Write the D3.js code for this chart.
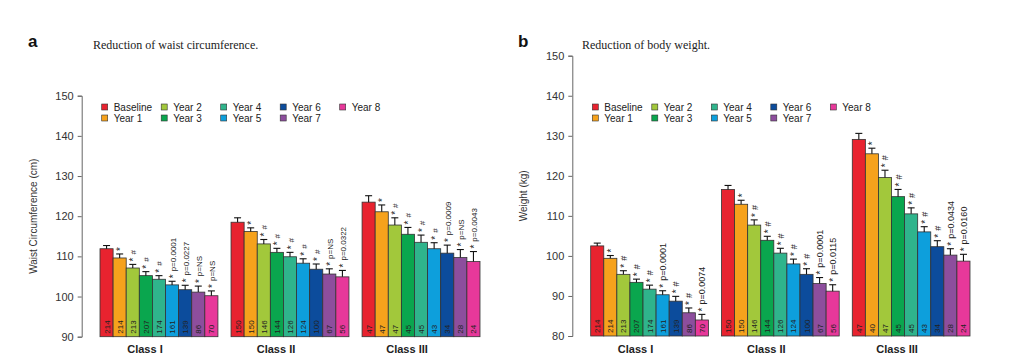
<!DOCTYPE html>
<html>
<head>
<meta charset="utf-8">
<script src="https://cdn.jsdelivr.net/npm/d3@7"></script>
<style>
  body { margin: 0; background: #fff; }
  svg { display: block; font-family: "Liberation Sans", Arial, sans-serif; }
</style>
</head>
<body>
<svg id="chart" width="1024" height="364"></svg>
<script>
// categories
const classes = ["Class I", "Class II", "Class III"];
const years = ["Baseline", "Year 1", "Year 2", "Year 3", "Year 4", "Year 5", "Year 6", "Year 7", "Year 8"];
const yearColors = ["#e8232f", "#f6a21c", "#a2c83b", "#0aa64e", "#2fb48c", "#0d9fdc", "#0c4c9c", "#8d4e9d", "#e7389a"];

// waist circumference (cm), one row per class
const waistMeans = [
  [111.9, 109.6, 107.1, 105.2, 104.3, 102.9, 101.7, 101.1, 100.2],
  [118.5, 116.2, 113.1, 111.0, 109.9, 108.3, 106.8, 105.6, 104.9],
  [123.5, 121.1, 117.8, 115.5, 113.5, 111.9, 110.8, 109.7, 108.7]
];
const waistErrors = [
  [0.8, 1.0, 0.9, 1.0, 0.9, 0.9, 1.1, 1.5, 1.2],
  [1.1, 0.9, 1.1, 1.0, 1.1, 1.1, 1.3, 1.3, 1.6],
  [1.6, 1.7, 1.8, 1.7, 1.8, 1.5, 2.0, 2.0, 2.5]
];
const waistCounts = [
  ["214", "214", "213", "207", "174", "161", "139", "86", "70"],
  ["150", "150", "146", "144", "126", "124", "100", "67", "56"],
  ["47", "47", "47", "45", "45", "43", "34", "28", "24"]
];
const waistNotes = [
  ["", "*", "* #", "* #", "* #", "* p=0.0001", "* p=0.0227", "* p=NS", "* p=NS"],
  ["", "*", "* #", "* #", "* #", "* #", "* #", "* p=NS", "* p=0.0322"],
  ["", "*", "* #", "* #", "* #", "* #", "* p=0.0009", "* p=NS", "* p=0.0043"]
];
const waistTicks = [90, 100, 110, 120, 130, 140, 150];

// body weight (kg)
const weightMeans = [
  [102.5, 99.4, 95.4, 93.4, 91.7, 90.3, 88.7, 85.8, 84.0],
  [116.6, 112.9, 107.7, 103.9, 100.7, 98.0, 95.4, 93.1, 91.2],
  [129.1, 125.5, 119.6, 114.8, 110.5, 106.0, 102.3, 100.2, 98.7]
];
const weightErrors = [
  [0.7, 0.7, 0.9, 0.8, 1.0, 1.0, 1.2, 1.2, 1.4],
  [1.0, 1.0, 1.3, 1.0, 1.2, 1.2, 1.4, 1.5, 1.6],
  [1.5, 1.4, 1.8, 1.8, 1.5, 1.3, 1.5, 1.6, 1.7]
];
const weightCounts = [
  ["214", "214", "213", "207", "174", "161", "139", "86", "70"],
  ["150", "150", "146", "144", "126", "124", "100", "67", "56"],
  ["47", "40", "47", "45", "45", "43", "34", "28", "24"]
];
const weightNotes = [
  ["", "*", "* #", "* #", "* #", "* p=0.0001", "* #", "* #", "* p=0.0074"],
  ["", "*", "* #", "* #", "* #", "* #", "* #", "* p=0.0001", "* p=0.0115"],
  ["", "*", "* #", "* #", "* #", "* #", "* #", "* p=0.0434", "* p=0.0160"]
];
const weightTicks = [80, 90, 100, 110, 120, 130, 140, 150];

const svg = d3.select("#chart");

function drawPanel(p) {
  const g = svg.append("g");

  const y = d3.scaleLinear().domain(p.domain).range([p.bottom, p.top]);
  const xClass = d3.scaleBand().domain(classes).range([p.barLeft, p.barRight]).paddingInner(0.1);
  const xYear = d3.scaleBand().domain(years).range([0, xClass.bandwidth()]);

  // panel letter + title
  g.append("text").attr("x", p.letterX).attr("y", 47)
    .style("font-size", "17px").style("font-weight", "bold").attr("fill", "#111")
    .text(p.letter);
  g.append("text").attr("x", p.titleX).attr("y", 49)
    .style("font-family", "'Liberation Serif', 'Times New Roman', serif")
    .style("font-size", "12px").attr("fill", "#222")
    .text(p.title);

  // y axis
  const axis = g.append("g").attr("transform", `translate(${p.axisX},0)`)
    .call(d3.axisLeft(y).tickValues(p.ticks).tickSize(4).tickPadding(4));
  axis.select(".domain").attr("stroke", "#666");
  axis.selectAll(".tick line").attr("stroke", "#666");
  axis.selectAll(".tick text").attr("fill", "#333")
    .style("font-size", "11px").style("font-family", "'Liberation Sans', Arial, sans-serif");

  g.append("text")
    .attr("transform", `translate(${p.labelX},${(p.top + p.bottom) / 2}) rotate(-90)`)
    .attr("text-anchor", "middle").attr("fill", "#333")
    .style("font-size", "10px")
    .text(p.yLabel);

  // bars
  classes.forEach((c, ci) => {
    const grp = g.append("g").attr("transform", `translate(${xClass(c)},0)`);
    const rows = years.map((yr, i) => ({
      year: yr, i: i, mean: p.means[ci][i], err: p.errors[ci][i],
      n: p.counts[ci][i], note: p.notes[ci][i]
    }));

    grp.selectAll("rect").data(rows).enter().append("rect")
      .attr("x", d => xYear(d.year))
      .attr("y", d => y(d.mean))
      .attr("width", xYear.bandwidth())
      .attr("height", d => y(p.domain[0]) - y(d.mean))
      .attr("fill", d => yearColors[d.i])
      .attr("stroke", "#333").attr("stroke-width", 0.8);

    // error bars
    const eb = grp.selectAll("g.err").data(rows).enter().append("g").attr("class", "err");
    const cx = d => xYear(d.year) + xYear.bandwidth() / 2;
    eb.append("line").attr("x1", cx).attr("x2", cx)
      .attr("y1", d => y(d.mean)).attr("y2", d => y(d.mean + d.err))
      .attr("stroke", "#111").attr("stroke-width", 1.1);
    eb.append("line").attr("x1", d => cx(d) - 3.5).attr("x2", d => cx(d) + 3.5)
      .attr("y1", d => y(d.mean + d.err)).attr("y2", d => y(d.mean + d.err))
      .attr("stroke", "#111").attr("stroke-width", 1.1);

    // counts inside bars
    grp.selectAll("text.n").data(rows).enter().append("text").attr("class", "n")
      .attr("transform", d => `translate(${cx(d) + 3},${p.bottom - 3}) rotate(-90)`)
      .attr("fill", "#222").style("font-size", "8px")
      .text(d => d.n);

    // significance notes: a bigger star, then the rest
    const notes = grp.selectAll("text.note").data(rows.filter(d => d.note)).enter().append("text").attr("class", "note")
      .attr("transform", d => `translate(${cx(d) + 3.5},${y(d.mean + d.err) - 3}) rotate(-90)`)
      .attr("fill", "#222").style("font-size", p.noteSize);
    notes.append("tspan").style("font-size", "10px").attr("dy", 1).text("*");
    notes.append("tspan").attr("dx", 3).attr("dy", -1).text(d => d.note.slice(2));

    // class label
    g.append("text")
      .attr("x", xClass(c) + xClass.bandwidth() / 2 - 14).attr("y", 353)
      .attr("text-anchor", "middle").attr("fill", "#222")
      .style("font-size", "11px").style("font-weight", "bold")
      .text(c);
  });

  // legend
  const leg = g.selectAll("g.leg").data(years).enter().append("g").attr("class", "leg")
    .attr("transform", (d, i) => `translate(${p.axisX + 20 + Math.floor(i / 2) * 59.5},${107 + (i % 2) * 11})`);
  leg.append("rect").attr("x", 0).attr("y", -3).attr("width", 6).attr("height", 6)
    .attr("fill", (d, i) => yearColors[i]).attr("stroke", "#333").attr("stroke-width", 0.6);
  leg.append("text").attr("x", 12).attr("y", 3.5)
    .attr("fill", "#222").style("font-size", "10px")
    .text(d => d);
}

drawPanel({
  letter: "a", letterX: 28, title: "Reduction of waist circumference.", titleX: 93,
  domain: [90, 150], ticks: waistTicks, top: 95.7, bottom: 336.7,
  axisX: 81.7, labelX: 37, yLabel: "Waist Circumference (cm)",
  barLeft: 100, barRight: 480,
  means: waistMeans, errors: waistErrors, counts: waistCounts, notes: waistNotes,
  noteSize: "8px"
});

drawPanel({
  letter: "b", letterX: 518, title: "Reduction of body weight.", titleX: 582,
  domain: [80, 150], ticks: weightTicks, top: 55.7, bottom: 336,
  axisX: 572.3, labelX: 527, yLabel: "Weight (kg)",
  barLeft: 590.7, barRight: 970,
  means: weightMeans, errors: weightErrors, counts: weightCounts, notes: weightNotes,
  noteSize: "9px"
});
</script>
</body>
</html>
